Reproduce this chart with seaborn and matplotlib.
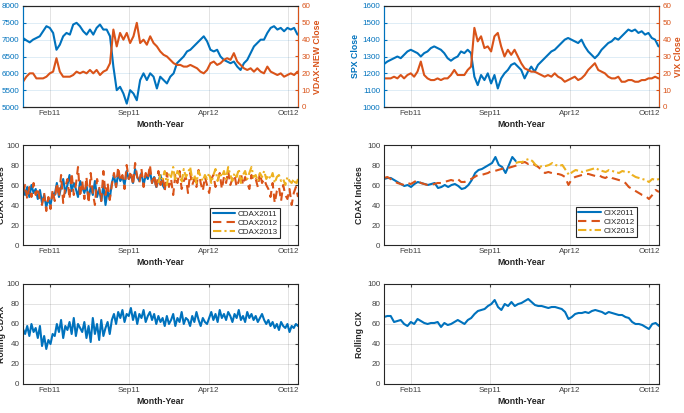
import numpy as np
import seaborn as sns
import matplotlib.pyplot as plt

# ==========================================
# cores padrão do MATLAB
# ==========================================
AZUL = '#0072BD'
LARANJA = '#D95319'
AMARELO = '#EDB120'
CINZA = '#262626'

# eixo x = índice de pregão
TICK_POS = [51, 201, 351, 501]
TICK_LAB = ['Feb11', 'Sep11', 'Apr12', 'Oct12']
X_MAX = 520

# ==========================================
# dados
# ==========================================
dax = [7050, 6980, 6920, 7000, 7050, 7100, 7250, 7400, 7350, 7200, 6700, 6850, 7100, 7200, 7150,
       7450, 7500, 7400, 7250, 7150, 7300, 7150, 7350, 7450, 7300, 7300, 7100, 6200, 5500, 5600,
       5400, 5100, 5500, 5400, 5200, 5800, 6000, 5800, 6000, 5900, 5550, 5900, 5800, 5700, 5900,
       6000, 6300, 6400, 6500, 6650, 6700, 6800, 6900, 7000, 7100, 6950, 6700, 6650, 6700, 6500,
       6400, 6350, 6300, 6350, 6200, 6100, 6300, 6400, 6600, 6800, 6900, 7000, 7000, 7200, 7350,
       7400, 7300, 7350, 7250, 7350, 7300, 7350, 7150]
vdax = [15, 18, 20, 20, 17, 17, 17, 18, 20, 21, 29, 21, 18, 18, 18, 19, 21, 20, 21, 20, 22, 20,
        22, 19, 21, 22, 26, 46, 36, 44, 40, 44, 38, 42, 50, 38, 40, 37, 42, 38, 36, 33, 31, 30,
        28, 26, 25, 25, 24, 24, 25, 24, 23, 21, 20, 22, 26, 27, 25, 26, 28, 29, 28, 32, 27, 25,
        23, 22, 23, 21, 23, 21, 20, 24, 21, 20, 19, 20, 18, 19, 20, 19, 21]

spx = [1255, 1270, 1280, 1290, 1300, 1290, 1310, 1330, 1340, 1330, 1320, 1300, 1320, 1330, 1350,
       1360, 1350, 1340, 1320, 1290, 1275, 1290, 1300, 1330, 1320, 1340, 1320, 1180, 1130, 1190,
       1160, 1200, 1140, 1190, 1110, 1170, 1200, 1220, 1250, 1260, 1240, 1220, 1170, 1210, 1240,
       1210, 1250, 1270, 1290, 1310, 1330, 1340, 1360, 1380, 1400, 1410, 1400, 1390, 1380, 1400,
       1360, 1330, 1310, 1290, 1310, 1340, 1360, 1380, 1390, 1410, 1400, 1420, 1440, 1460, 1450,
       1460, 1440, 1450, 1430, 1440, 1410, 1400, 1360]
vix = [17, 17, 17, 18, 17, 19, 17, 19, 20, 18, 21, 27, 19, 17, 16, 16, 17, 16, 17, 17, 19, 22,
       19, 19, 19, 22, 24, 47, 39, 42, 35, 36, 33, 42, 44, 36, 30, 34, 31, 34, 30, 26, 23, 22,
       21, 21, 20, 19, 18, 19, 18, 20, 18, 17, 15, 16, 17, 18, 16, 17, 19, 22, 24, 26, 22, 21,
       20, 18, 17, 17, 18, 15, 15, 16, 16, 15, 15, 16, 16, 17, 17, 18, 17]

cdax2011 = [62, 50, 58, 48, 60, 52, 56, 46, 55,
            42, 50, 38, 46, 40, 52,
            50, 62, 48, 58, 66, 52, 60, 70, 54, 62, 56, 48, 64, 58,
            52, 60, 46, 58, 50, 64, 48, 56, 44, 60, 40, 54, 46,
            62, 70, 58, 72, 64, 68, 60, 74, 66, 70, 62, 76, 68, 64, 72, 60, 70, 66, 74, 62, 68, 58,
            64, 70, 60, 56]
cdax2012 = [52, 60, 46, 58, 48, 62, 50, 57, 45,
            40, 52, 34, 48, 36, 55,
            44, 62, 48, 70, 42, 58, 66, 46, 72, 50, 60, 78, 48, 64,
            46, 68, 42, 72, 52, 40, 66, 58, 44, 74, 50, 62, 45,
            60, 72, 58, 78, 64, 70, 56, 80, 66, 74, 60, 82, 68, 62, 76, 58, 72, 66, 80, 62, 70, 56, 74,
            60, 68, 54, 72, 58, 66, 50, 70, 62, 74, 56, 64, 68, 52, 72, 60, 66, 58, 75, 62, 54, 68,
            60, 52, 66, 70, 58, 64, 72, 56, 68, 62, 74, 60, 66, 70, 58, 64, 72, 60, 68, 62, 56, 70,
            64, 66, 58, 72, 62, 66, 60,
            56, 48, 62, 42, 54, 58, 44, 60, 50, 46, 56, 40, 52, 58, 48]
cdax2013 = [62, 70, 66, 74, 60, 72, 68, 78, 64, 74, 70, 62, 76, 68, 72, 78, 66, 70, 62, 74, 68, 64, 70,
            66, 72, 62, 70, 76, 64, 72, 68, 74, 66, 78, 70, 64, 72, 68, 76, 62, 70, 74, 66, 72, 78,
            68, 70, 64, 72, 68, 74, 66,
            70, 66, 72, 62, 68, 70, 64, 66, 60, 68, 64, 62, 66, 60, 66]

cix2011 = [66, 67, 67, 65, 63, 61, 59, 60, 58, 61, 63, 62, 61, 60, 61, 62, 57, 58, 60, 58, 60, 61,
           59, 56, 57, 60, 65, 72, 75, 76, 78, 80, 82, 88, 80, 78, 72, 80, 88, 84]
cix2012 = [67, 68, 66, 64, 62, 61, 60, 62, 61, 63, 65, 62, 61, 60, 60, 61, 62, 62, 63, 64, 65, 64,
           66, 63, 63, 65, 66, 68, 70, 70, 71, 72, 74, 74, 75, 76, 77, 77, 78, 79, 80, 82, 83, 81,
           82, 80, 78, 75, 72, 73, 72, 71, 71, 70, 68, 60, 66, 68, 69, 70, 71, 71, 70, 69, 70, 68,
           67, 69, 67, 66, 65, 64, 62, 58, 56, 54, 52, 50, 49, 46, 50, 55, 53]
cix2013 = [82, 83, 83, 85, 86, 84, 80, 78, 79, 79, 80, 82, 80, 79, 80, 75, 70, 73, 75, 74, 73, 74,
           75, 76, 77, 75, 74, 73, 75, 74, 73, 72, 74, 73, 73, 70, 68, 67, 66, 65, 63, 66, 65, 66]

rolling_cdax = [55, 50, 58, 48, 60, 52, 56, 46, 58,
                38, 48, 35, 44, 40, 50,
                48, 60, 52, 64, 46, 58, 54, 62, 50, 66, 48, 60, 56, 52,
                62, 46, 58, 42, 66, 50, 60, 44, 64, 48, 56, 62, 50,
                64, 70, 60, 72, 66, 74, 62, 70, 68, 76, 64, 72, 60, 70, 66, 74, 62, 68, 72, 64, 70, 60, 68,
                62, 66, 58, 68, 60, 64, 70, 58, 66, 62, 72, 60, 66, 64, 58, 68, 62, 72, 64, 58, 66, 62,
                60, 66, 72, 64, 70, 62, 74, 66, 70, 64, 72, 68, 62, 70, 66, 74, 64, 68, 62, 72, 66, 70,
                64, 68, 62, 66, 70, 64, 60,
                64, 58, 62, 56, 60, 54, 62, 58, 56, 60, 52, 58, 56, 60, 58]
rolling_cix = [67, 68, 68, 62, 63, 64, 60, 58, 62, 60, 65, 63, 61, 60, 61, 61, 62, 57, 61, 59, 60, 62,
               64, 62, 60, 64, 66, 70, 73, 74, 75, 78, 80, 84, 77, 74, 80, 78, 82, 78, 80, 81, 83, 85,
               82, 79, 78, 78, 77, 76, 77, 77, 76, 75, 72, 65, 67, 70, 71, 71, 72, 71, 73, 74, 73, 72,
               70, 72, 71, 70, 69, 69, 67, 66, 62, 60, 60, 59, 57, 55, 60, 61, 58]

# posições (pregões) de cada série
d_dax = np.linspace(0, 519, len(dax))
d_spx = np.linspace(0, 519, len(spx))
d_c11 = np.arange(0, 269, 4)
d_c12 = np.arange(0, 521, 4)
d_c13 = np.arange(256, 521, 4)
d_x11 = np.linspace(0, 249, len(cix2011))
d_x12 = np.linspace(0, 520, len(cix2012))
d_x13 = np.linspace(249, 520, len(cix2013))
d_rcx = np.linspace(0, 520, len(rolling_cix))

# ==========================================
# estilo
# ==========================================
sns.set_style('white')
plt.rcParams['font.family'] = ['Liberation Sans', 'DejaVu Sans']
FS = 5.8
FS_LAB = 6.3


def formata_eixo(ax, ylab=None, caixa=True, pad_y=2):
    ax.set_xlim(0, X_MAX)
    ax.set_xticks(TICK_POS)
    ax.set_xticklabels(TICK_LAB)
    ax.set_xlabel('Month-Year', fontsize=FS_LAB, fontweight='bold', color=CINZA, labelpad=1.5)
    ax.grid(True, color=CINZA, alpha=0.15, lw=0.6)
    ax.tick_params(direction='in', length=2, labelsize=FS, colors='#404040', pad=2.5,
                   top=caixa, right=caixa)
    for s in ax.spines.values():
        s.set_color(CINZA)
        s.set_linewidth(0.8)
    if ylab:
        ax.set_ylabel(ylab, fontsize=FS_LAB, fontweight='bold', color=CINZA, labelpad=pad_y)
    else:
        ax.set_ylabel('')


def painel_duplo(ax, dias, serie_esq, serie_dir, lim_esq, passo_esq, ylab_esq, ylab_dir):
    sns.lineplot(x=dias, y=serie_esq, ax=ax, color=AZUL, lw=1.5)
    ax.set_ylim(*lim_esq)
    ax.set_yticks(np.arange(lim_esq[0], lim_esq[1] + 1, passo_esq))
    formata_eixo(ax, caixa=False)
    ax.grid(False, axis='y')
    ax.grid(True, axis='y', color=AZUL, alpha=0.15, lw=0.6)
    ax.tick_params(axis='y', colors=AZUL, labelcolor=AZUL)
    ax.spines['left'].set_color(AZUL)
    if ylab_esq:
        ax.set_ylabel(ylab_esq, fontsize=FS_LAB, fontweight='bold', color=AZUL, labelpad=2)

    ax2 = ax.twinx()
    sns.lineplot(x=dias, y=serie_dir, ax=ax2, color=LARANJA, lw=1.5)
    ax2.set_ylim(0, 60)
    ax2.set_yticks(np.arange(0, 61, 10))
    ax2.tick_params(axis='y', direction='in', length=2, labelsize=FS, colors=LARANJA, pad=2.5)
    ax2.spines['right'].set_color(LARANJA)
    ax2.spines['left'].set_color(AZUL)
    ax2.spines['top'].set_color(CINZA)
    ax2.spines['bottom'].set_color(CINZA)
    for s in ax2.spines.values():
        s.set_linewidth(0.8)
    ax2.set_ylabel(ylab_dir, fontsize=FS_LAB, fontweight='bold', color=LARANJA, labelpad=2)
    ax2.set_xlim(0, X_MAX)


TRACO = (0, (4, 2.5))
TRACO_PONTO = (0, (4, 1.5, 1, 1.5))

fig = plt.figure(figsize=(6.84, 4.13), dpi=100)

# posições [esq, baixo, larg, alt]
COL_X = [23 / 684, 384 / 684]
LARG = 275 / 684
LIN_Y = [1 - 107 / 413, 1 - 245 / 413, 1 - 384 / 413]
ALT = 100 / 413

# ---- linha 1: índice x volatilidade
ax = fig.add_axes([COL_X[0], LIN_Y[0], LARG, 101 / 413])
painel_duplo(ax, d_dax, dax, vdax, (5000, 8000), 500, None, 'VDAX-NEW Close')

ax = fig.add_axes([COL_X[1], LIN_Y[0], LARG, 101 / 413])
painel_duplo(ax, d_spx, spx, vix, (1000, 1600), 100, 'SPX Close', 'VIX Close')

# ---- linha 2: índices anuais
ax = fig.add_axes([COL_X[0], LIN_Y[1], LARG, ALT])
sns.lineplot(x=d_c11, y=cdax2011, ax=ax, color=AZUL, lw=1.5, label='CDAX2011')
sns.lineplot(x=d_c12, y=cdax2012, ax=ax, color=LARANJA, lw=1.5, linestyle=TRACO, label='CDAX2012')
sns.lineplot(x=d_c13, y=cdax2013, ax=ax, color=AMARELO, lw=1.5, linestyle=TRACO_PONTO, label='CDAX2013')
ax.set_ylim(0, 100)
ax.set_yticks(range(0, 101, 20))
formata_eixo(ax, 'CDAX Indices', pad_y=0)
ax.legend(loc='lower right', bbox_to_anchor=(0.935, 0.07), borderaxespad=0, fontsize=FS,
          frameon=True, fancybox=False, edgecolor=CINZA, framealpha=1, handlelength=2.8,
          handletextpad=0.3, labelspacing=0.15, borderpad=0.3).get_frame().set_linewidth(0.8)

ax = fig.add_axes([COL_X[1], LIN_Y[1], LARG, ALT])
sns.lineplot(x=d_x11, y=cix2011, ax=ax, color=AZUL, lw=1.5, label='CIX2011')
sns.lineplot(x=d_x12, y=cix2012, ax=ax, color=LARANJA, lw=1.5, linestyle=TRACO, label='CIX2012')
sns.lineplot(x=d_x13, y=cix2013, ax=ax, color=AMARELO, lw=1.5, linestyle=TRACO_PONTO, label='CIX2013')
ax.set_ylim(0, 100)
ax.set_yticks(range(0, 101, 20))
formata_eixo(ax, 'CDAX Indices')
ax.legend(loc='lower right', bbox_to_anchor=(0.92, 0.08), borderaxespad=0, fontsize=FS,
          frameon=True, fancybox=False, edgecolor=CINZA, framealpha=1, handlelength=2.8,
          handletextpad=0.3, labelspacing=0.15, borderpad=0.3).get_frame().set_linewidth(0.8)

# ---- linha 3: janelas móveis
ax = fig.add_axes([COL_X[0], LIN_Y[2], LARG, ALT])
sns.lineplot(x=d_c12, y=rolling_cdax, ax=ax, color=AZUL, lw=1.5)
ax.set_ylim(0, 100)
ax.set_yticks(range(0, 101, 20))
formata_eixo(ax, 'Rolling CDAX', pad_y=0)

ax = fig.add_axes([COL_X[1], LIN_Y[2], LARG, ALT])
sns.lineplot(x=d_rcx, y=rolling_cix, ax=ax, color=AZUL, lw=1.5)
ax.set_ylim(0, 100)
ax.set_yticks(range(0, 101, 20))
formata_eixo(ax, 'Rolling CIX')

fig.savefig('out.png', dpi=100)
plt.close(fig)
